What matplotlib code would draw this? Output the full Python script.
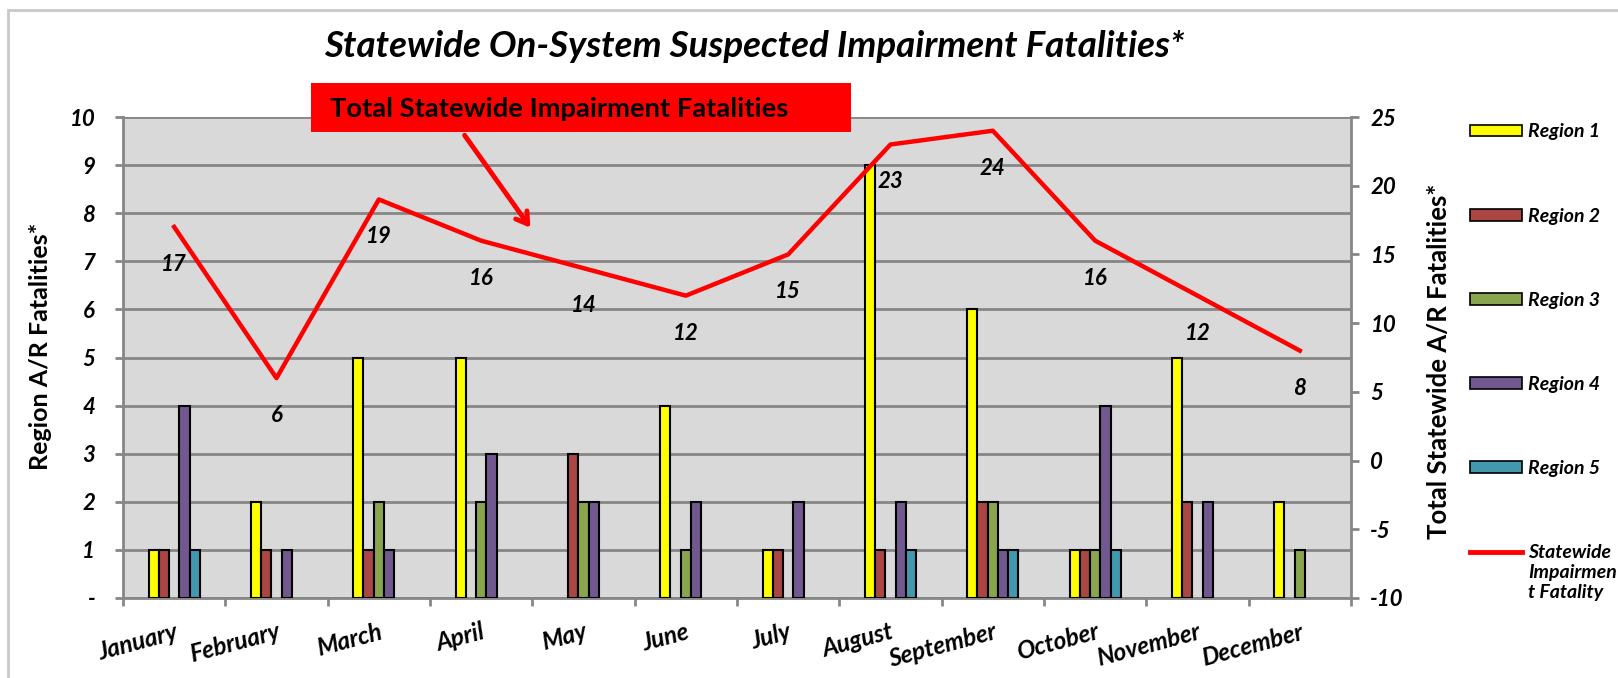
import matplotlib
matplotlib.use("Agg")
import matplotlib.pyplot as plt
import matplotlib.patches as mpatches
from matplotlib.lines import Line2D
import numpy as np

# data ----------------------------------------------------------------
months = ["January", "February", "March", "April", "May", "June", "July",
          "August", "September", "October", "November", "December"]
region1 = [1, 2, 5, 5, 0, 4, 1, 9, 6, 1, 5, 2]
region2 = [1, 1, 1, 0, 3, 0, 1, 1, 2, 1, 2, 0]
region3 = [0, 0, 2, 2, 2, 1, 0, 0, 2, 1, 0, 1]
region4 = [4, 1, 1, 3, 2, 2, 2, 2, 1, 4, 2, 0]
region5 = [1, 0, 0, 0, 0, 0, 0, 1, 1, 1, 0, 0]
statewide = [17, 6, 19, 16, 14, 12, 15, 23, 24, 16, 12, 8]

series = [region1, region2, region3, region4, region5]
names = ["Region 1", "Region 2", "Region 3", "Region 4", "Region 5"]
colors = ["#FFFF00", "#AA4643", "#89A54E", "#71588F", "#4198AF"]

FONT = "Lato"
plt.rcParams['font.family'] = [FONT, 'DejaVu Sans']
plt.rcParams['axes.unicode_minus'] = False

fig = plt.figure(figsize=(16.18, 6.78), dpi=100)
ax = fig.add_axes([123/1618, 1-598/678, (1351-123)/1618, (598-117)/678])
ax.set_facecolor("#D9D9D9")

x = np.arange(len(months))
w = 0.1
for k, (vals, c) in enumerate(zip(series, colors)):
    lws = [1.5 if v else 0 for v in vals]   # no outline for empty bars
    ax.bar(x + (k-2)*w, vals, w, color=c, edgecolor="black", linewidth=lws,
           label=names[k], zorder=3)

ax.set_xlim(-0.5, 11.5)
ax.set_ylim(0, 10)
ax.set_yticks(range(0, 11))
ax.set_yticklabels(["-"] + [str(i) for i in range(1, 11)])
ax.yaxis.grid(True, color="#868686", linewidth=2)
ax.set_axisbelow(True)
for s in ["top", "right"]:
    ax.spines[s].set_visible(False)
for s in ["left", "bottom"]:
    ax.spines[s].set_color("#868686")
    ax.spines[s].set_linewidth(2)
ax.tick_params(axis="y", color="#868686", width=2, length=6, pad=14)

ax.set_xticks(x)
ax.set_xticklabels(months, rotation=15, ha="right", rotation_mode="anchor")
ax.set_xticks(np.arange(-0.5, 12, 1), minor=True)
ax.tick_params(axis="x", which="major", length=0, pad=16)
ax.tick_params(axis="x", which="minor", length=6, width=2, color="#868686")
for t in ax.get_xticklabels():
    t.set_fontsize(17.5)
    t.set_fontweight("bold")
    t.set_fontstyle("italic")
for t in ax.get_yticklabels():
    t.set_fontsize(16)
    t.set_fontweight("bold")
    t.set_fontstyle("italic")

ax.set_ylabel("Region A/R Fatalities*", fontsize=18, fontweight="bold")
ax.yaxis.set_label_coords(-0.0575, 0.524)

# right axis: statewide line
ax2 = ax.twinx()
ax2.plot(x, statewide, color="#FF0000", linewidth=3.2, zorder=5)
ax2.set_ylim(-10, 25)
ax2.set_yticks(range(-10, 26, 5))
for s in ["top", "left", "bottom"]:
    ax2.spines[s].set_visible(False)
ax2.spines["right"].set_color("#868686")
ax2.spines["right"].set_linewidth(2)
ax2.tick_params(axis="y", color="#868686", width=2, length=6, pad=8)
for t in ax2.get_yticklabels():
    t.set_fontsize(16)
    t.set_fontweight("bold")
    t.set_fontstyle("italic")
ax2.set_ylabel("Total Statewide A/R Fatalities*", fontsize=18.5, fontweight="bold")
ax2.yaxis.set_label_coords(1.0615, 0.493)

for xi, v in zip(x, statewide):
    ax2.annotate(str(v), (xi, v), xytext=(0, -27), textcoords="offset points",
                 ha="center", va="center", fontsize=16, fontweight="bold",
                 fontstyle="italic", zorder=6)

# title and call-out box
fig.text(0.466, 0.932, "Statewide On-System Suspected Impairment Fatalities*",
         ha="center", va="center", fontsize=26.5, fontweight="bold", fontstyle="italic")
box = mpatches.Rectangle((311/1618, 1-132/678), (851-311)/1618, (132-83)/678,
                         transform=fig.transFigure, facecolor="#FF0000",
                         edgecolor="none", zorder=10)
fig.patches.append(box)
fig.text(330/1618, 1-109/678, "Total Statewide Impairment Fatalities",
         ha="left", va="center", fontsize=19.7, fontweight="bold", zorder=11)
fig.add_artist(mpatches.FancyArrowPatch((463/1618, 1-133/678), (532/1618, 1-230/678),
                                        transform=fig.transFigure,
                                        arrowstyle="->,head_length=8,head_width=5",
                                        color="#FF0000", linewidth=3.5, zorder=11))

# outer chart border
fig.patches.append(mpatches.Rectangle((8/1618, -0.05), 1.2, 1.05-10/678,
                                      transform=fig.transFigure, fill=False,
                                      edgecolor="#C8C8C8", linewidth=2))

# legend
handles = [mpatches.Patch(facecolor=c, edgecolor="black", linewidth=1.2)
           for c in colors]
handles.append(Line2D([0], [0], color="#FF0000", linewidth=3.5))
labels = names + ["Statewide"]
legfont = {"size": 14, "weight": "bold", "style": "italic"}
leg = fig.legend(handles, labels, loc="upper left",
                 bbox_to_anchor=(1452/1618, 1-106/678), frameon=False,
                 prop=legfont, handlelength=2.7, handleheight=0.55,
                 handletextpad=0.3, labelspacing=3.45)

# the long legend label wraps under its first line
fig.canvas.draw()
bb = leg.get_texts()[-1].get_window_extent().transformed(fig.transFigure.inverted())
fig.text(bb.x0, bb.y0 - 0.004, "Impairmen\nt Fatality", ha="left", va="top",
         fontsize=14, fontweight="bold", fontstyle="italic", linespacing=1.25)

fig.savefig("out.png", dpi=100)
